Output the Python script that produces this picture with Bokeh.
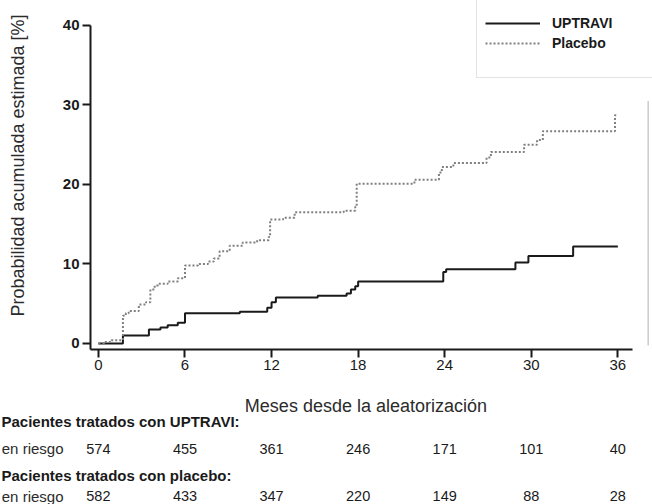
import math
from bokeh.plotting import figure
from bokeh.models import (Legend, LegendItem, Label, LabelSet, ColumnDataSource,
                          FixedTicker, BoxAnnotation)
from bokeh.core.properties import value
from bokeh.embed import file_html
from bokeh.resources import INLINE

# ---------------- data ----------------
uptravi_months = [0, 1.7, 3.5, 4.3, 4.8, 5.5, 6.0, 9.8, 11.7, 12.0, 12.3, 15.2,
                  17.2, 17.5, 17.8, 18.0, 23.9, 24.1, 28.9, 29.8, 32.9, 36.0]
uptravi_prob = [0, 1.0, 1.75, 2.0, 2.3, 2.6, 3.8, 4.0, 4.5, 5.2, 5.8, 6.0,
                6.3, 6.8, 7.2, 7.8, 9.0, 9.35, 10.2, 11.0, 12.2, 12.2]

placebo_months = [0, 0.4, 0.9, 1.7, 1.9, 2.1, 2.8, 3.3, 3.6, 3.9, 4.15, 4.8, 5.5,
                  6.0, 6.9, 7.6, 8.0, 8.4, 9.1, 10.0, 11.0, 11.8, 11.9, 12.8, 13.6,
                  17.0, 17.8, 17.9, 21.9, 23.6, 23.8, 24.6, 26.9, 27.2, 29.5, 30.4,
                  30.8, 35.8, 36.0]
placebo_prob = [0, 0.2, 0.4, 3.5, 3.8, 4.1, 4.9, 5.2, 6.8, 7.3, 7.5, 7.8, 8.2,
                9.8, 10.0, 10.3, 10.7, 11.6, 12.3, 12.7, 13.0, 13.4, 15.6, 15.8, 16.5,
                16.7, 17.2, 20.1, 20.6, 21.5, 22.2, 22.7, 23.4, 24.1, 25.0, 25.6,
                26.7, 28.7, 28.7]

x_ticks = [0, 6, 12, 18, 24, 30, 36]
y_ticks = [0, 10, 20, 30, 40]

at_risk_uptravi = [574, 455, 361, 246, 171, 101, 40]
at_risk_placebo = [582, 433, 347, 220, 149, 88, 28]

series_names = ["UPTRAVI", "Placebo"]
x_title = "Meses desde la aleatorización"
y_title = "Probabilidad acumulada estimada [%]"
header_uptravi = "Pacientes tratados con UPTRAVI:"
header_placebo = "Pacientes tratados con placebo:"
risk_label = "en riesgo"

FONT = "Liberation Sans"
INK = "#1a1a1a"

# ---------------- figure ----------------
# the frame covers the whole canvas; axes are pinned at fixed data locations
p = figure(width=652, height=504, x_range=(-6.785, 38.40), y_range=(-20.25, 43.14),
           output_backend="svg", toolbar_location=None, min_border=0)
p.min_border_left = p.min_border_right = p.min_border_top = p.min_border_bottom = 0
p.outline_line_color = None
p.grid.visible = False
p.background_fill_color = "white"
p.border_fill_color = "white"

r1 = p.step(uptravi_months, uptravi_prob, mode="after", line_color=INK,
            line_width=2)
r2 = p.step(placebo_months, placebo_prob, mode="after", line_color="#808080",
            line_width=2, line_dash="2 2")
r_dummy = p.line([], [], line_alpha=0)

for ax in (p.xaxis[0], p.yaxis[0]):
    ax.axis_line_width = 2
    ax.axis_line_color = INK
    ax.major_tick_line_width = 2
    ax.major_tick_line_color = INK
    ax.major_tick_out = 8
    ax.major_tick_in = 0
    ax.minor_tick_line_color = None
    ax.major_label_standoff = 3
    ax.major_label_text_font = FONT
    ax.major_label_text_font_size = "15px"
    ax.major_label_text_color = INK

p.xaxis.ticker = FixedTicker(ticks=x_ticks)
p.yaxis.ticker = FixedTicker(ticks=y_ticks)
p.yaxis.major_label_text_font_style = "bold"
p.xaxis.major_label_text_font_style = "normal"
p.xaxis.fixed_location = -0.755
p.yaxis.fixed_location = -0.547
p.xaxis.bounds = (-0.547, 36.98)
p.yaxis.bounds = (-0.755, 40)

# axis titles
p.add_layout(Label(x=18.54, y=-7.8, text=x_title, text_align="center",
                   text_baseline="middle", text_font=FONT, text_font_size="18px",
                   text_color="#2b2b2b"))
p.add_layout(Label(x=-5.54, y=22.39, text=y_title,
                   angle=math.pi / 2, text_align="center", text_baseline="middle",
                   text_font=FONT, text_font_size="18px", text_color="#2b2b2b"))

# legend
legend = Legend(items=[LegendItem(label=series_names[0], renderers=[r1]),
                       LegendItem(label=series_names[1], renderers=[r2]),
                       LegendItem(label=" ", renderers=[r_dummy])],
                title=" ", title_text_font_size="14px", title_standoff=5,
                location=(476, 426), padding=8, spacing=4, margin=0,
                glyph_width=55, glyph_height=14, label_height=14, label_width=120,
                label_standoff=12, label_text_font=FONT,
                label_text_font_style="bold", label_text_font_size="14px",
                label_text_color=INK,
                border_line_color="#c8c8c8", border_line_width=1,
                background_fill_color="white", background_fill_alpha=1)
p.add_layout(legend)

# faint vertical rule at right
p.add_layout(BoxAnnotation(left=38.05, right=38.15, bottom=-0.25, top=30.5,
                           fill_color="#c8c8c8", fill_alpha=1, line_alpha=0))

# risk table
row_y = {"h_u": -9.81, "n_u": -13.21, "h_p": -16.60, "n_p": -19.24}
p.add_layout(Label(x=-6.72, y=row_y["h_u"], text=header_uptravi, text_align="left",
                   text_baseline="middle", text_font=FONT, text_font_style="bold",
                   text_font_size="15px", text_color=INK))
p.add_layout(Label(x=-6.72, y=row_y["h_p"], text=header_placebo, text_align="left",
                   text_baseline="middle", text_font=FONT, text_font_style="bold",
                   text_font_size="15px", text_color=INK))
for yy in (row_y["n_u"], row_y["n_p"]):
    p.add_layout(Label(x=-2.42, y=yy, text=risk_label, text_align="right",
                       text_baseline="middle", text_font=FONT,
                       text_font_size="15px", text_color="#2b2b2b"))

src_u = ColumnDataSource(dict(x=x_ticks, n=[str(v) for v in at_risk_uptravi]))
src_p = ColumnDataSource(dict(x=x_ticks, n=[str(v) for v in at_risk_placebo]))
for src, yy in ((src_u, row_y["n_u"]), (src_p, row_y["n_p"])):
    p.add_layout(LabelSet(source=src, x="x", y=yy, text="n",
                          text_align="center", text_baseline="middle",
                          text_font=value(FONT), text_font_size=value("14.5px"),
                          text_color=INK))

open("out.html", "w").write(file_html(p, INLINE))
